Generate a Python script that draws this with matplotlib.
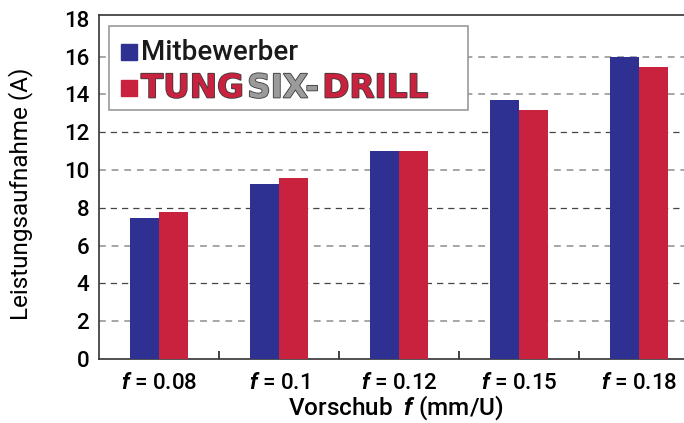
import matplotlib
matplotlib.use("Agg")
import matplotlib.pyplot as plt
import matplotlib.patheffects as pe
from matplotlib.patches import Rectangle
from matplotlib.text import Annotation
import numpy as np

plt.rcParams['font.family'] = ['Roboto', 'DejaVu Sans']
plt.rcParams['font.weight'] = 'medium'
plt.rcParams['mathtext.fontset'] = 'custom'
plt.rcParams['mathtext.it'] = 'Roboto:italic:bold'
plt.rcParams['mathtext.rm'] = 'Roboto:medium'

# Leistungsaufnahme je Vorschub
vorschub = ['0.08', '0.1', '0.12', '0.15', '0.18']
mitbewerber = [7.45, 9.25, 11.0, 13.7, 16.0]
tungsix = [7.8, 9.6, 11.0, 13.15, 15.45]
y_ticks = [0, 2, 4, 6, 8, 10, 12, 14, 16, 18]

BLUE = '#2e3192'
RED = '#c8223f'

W, H = 684, 423
fig = plt.figure(figsize=(W / 100, H / 100), dpi=100)
ax = fig.add_axes([99 / W, 64 / H, (W - 99) / W, (359 - 15) / H])

x = np.arange(len(vorschub))
bw = 0.245
ax.bar(x - bw / 2, mitbewerber, bw, color=BLUE, zorder=3)
ax.bar(x + bw / 2, tungsix, bw, color=RED, zorder=3)

# gestrichelte Hilfslinien
for v in y_ticks[1:-1]:
    if v in (4, 8, 12):
        ax.axhline(v, color='#444444', lw=0.9, ls=(0, (5, 4)), zorder=1)
    else:
        ax.axhline(v, color='#a6a6a6', lw=1.4, ls=(0, (3.5, 3)), zorder=1)

ax.set_xlim(-0.5, -0.5 + (W - 99) / 120)
ax.set_ylim(0, 18.2)
ax.set_yticks(y_ticks)
ax.tick_params(axis='y', length=0, pad=7, labelsize=16)

ax.set_xticks(x)
ax.set_xticklabels([f'$\\mathit{{f}}$ = {v}' for v in vorschub])
ax.set_xticks(x[:-1] + 0.5, minor=True)
ax.tick_params(axis='x', which='major', length=0, pad=10, labelsize=16)
ax.tick_params(axis='x', which='minor', direction='in', length=6, width=1.2, color='#222222')

for s in ('left', 'bottom', 'top'):
    ax.spines[s].set_color('#333333')
    ax.spines[s].set_linewidth(1.2)
ax.spines['right'].set_visible(False)

ax.set_ylabel('Leistungsaufnahme (A)', fontsize=17.5)
ax.yaxis.set_label_coords(-0.113, 0.48)
fig.text(396 / W, 1 - 415 / H, 'Vorschub  $\\mathit{f}$ (mm/U)', fontsize=17.5,
         ha='center', va='baseline')

# Legende
def fx(px):
    return px / W

def fy(py):
    return 1 - py / H

fig.patches.append(Rectangle((fx(109), fy(110)), fx(468) - fx(109), fy(26) - fy(110),
                             transform=fig.transFigure, facecolor='white',
                             edgecolor='#9a9a9a', lw=1.2, zorder=5))
fig.patches.append(Rectangle((fx(121), fy(60)), fx(16), 16 / H,
                             transform=fig.transFigure, color=BLUE, zorder=6))
fig.patches.append(Rectangle((fx(121), fy(96)), fx(16), 16 / H,
                             transform=fig.transFigure, color=RED, zorder=6))
fig.text(fx(141), fy(52), 'Mitbewerber', fontsize=20, va='center', ha='left',
         color='#1a1a1a', zorder=7)

outline = [pe.withStroke(linewidth=1.2, foreground='#3a3a3a')]
logo_kw = dict(fontsize=23.5, fontweight='bold', family='DejaVu Sans', zorder=7,
               path_effects=outline)
t1 = fig.text(fx(141), fy(97.5), 'TUNG', color=RED, va='baseline', ha='left', **logo_kw)
t2 = fig.add_artist(Annotation('SIX-', xy=(1, 0), xycoords=t1, xytext=(2.5, 0),
                               textcoords='offset points', va='bottom', ha='left',
                               color='#9b9b9b', annotation_clip=False, **logo_kw))
t3 = fig.add_artist(Annotation('DRILL', xy=(1, 0), xycoords=t2, xytext=(2.5, 0),
                               textcoords='offset points', va='bottom', ha='left',
                               color=RED, annotation_clip=False, **logo_kw))

fig.savefig('out.png', dpi=100)
